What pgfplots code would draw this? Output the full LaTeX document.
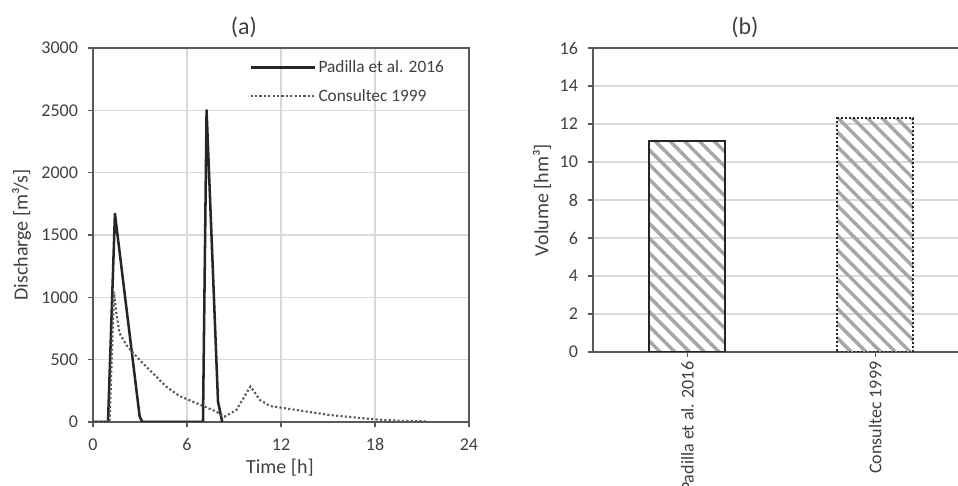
\documentclass[border=0pt]{standalone}
\usepackage{fontspec}
\setmainfont{Carlito}
\usepackage{pgfplots}
\pgfplotsset{compat=1.18}
\usetikzlibrary{patterns.meta}

\definecolor{axisgray}{HTML}{595959}
\definecolor{gridgray}{HTML}{D9D9D9}
\definecolor{textgray}{HTML}{404040}
\definecolor{linedark}{HTML}{262626}
\definecolor{dotgray}{HTML}{595959}
\definecolor{hatch}{HTML}{A6A6A6}

\pgfplotsset{
  every axis/.append style={
    scale only axis,
    /pgf/number format/assume math mode=true,
    tick label style={font=\fontsize{13.5}{15}\selectfont, text=textgray},
    label style={font=\fontsize{15}{18}\selectfont, text=textgray},
    title style={font=\fontsize{18}{21}\selectfont, text=textgray},
    every axis title shift=0pt,
    tick align=outside,
    major tick length=3.75pt,
    tick style={axisgray, line width=0.8pt},
    grid style={gridgray, line width=0.9pt},
    axis line style={axisgray, line width=0.9pt},
  },
}

\begin{document}
\begin{tikzpicture}
% (a) hydrographs
\begin{axis}[
  at={(69.75pt,48pt)}, anchor=south west,
  width=282pt, height=280.5pt,
  xmin=0, xmax=24, ymin=0, ymax=3000,
  xtick={0,6,...,24}, ytick={0,500,...,3000},
  tick pos=left,
  grid=major,
  scaled y ticks=false,
  yticklabel style={/pgf/number format/1000 sep={}, xshift=-4pt},
  xticklabel style={yshift=-5pt},
  title={(a)},
  title style={at={(axis description cs:0.4016,1.056)}, anchor=center},
  xlabel={Time [h]},
  xlabel style={at={(axis description cs:0.497,-0.123)}, anchor=center},
  ylabel={Discharge [m³/s]},
  ylabel style={at={(axis description cs:-0.19,0.5)}, anchor=center},
  legend style={draw=none, fill=none, at={(axis description cs:0.415,0.975)},
    anchor=north west, inner sep=0pt, row sep=7pt,
    font=\fontsize{13}{15}\selectfont, text=textgray},
  legend cell align=left,
  legend image code/.code={\draw[#1] (0pt,0pt) -- (48pt,0pt);},
]
\addplot[linedark, line width=1.9pt, line join=round] coordinates {
  (0,0) (0.96,0) (1.4,1670) (2.98,43) (3.15,0) (7.02,0) (7.25,2500)
  (7.98,163) (8.25,0)
};
\addlegendentry{Padilla et al. 2016}
\addplot[dotgray, line width=1.6pt, dash pattern=on 1.6pt off 1.7pt] coordinates {
  (0,0) (1.06,0) (1.34,1045) (1.49,872) (1.70,711) (2.13,617) (2.55,556)
  (3.19,470) (3.83,390) (4.68,283) (5.53,208) (6.38,163) (7.23,118)
  (7.87,83) (8.40,43) (9.15,96) (10.05,285) (10.66,176) (11.3,128)
  (13.0,96) (15.1,56) (17.25,30) (17.9,22) (19.5,10) (21.3,5)
};
\addlegendentry{Consultec 1999}
\end{axis}

% (b) volumes
\begin{axis}[
  at={(444.75pt,100.5pt)}, anchor=south west,
  width=273.75pt, height=228pt,
  axis x line*=box, axis y line*=left,
  xtick pos=bottom, ytick pos=left,
  ybar, bar width=56.8pt, bar shift=0pt,
  xmin=-0.502, xmax=1.44, ymin=0, ymax=16,
  ytick={0,2,...,16},
  yticklabel style={xshift=-4pt},
  xtick={0,1},
  xticklabels={Padilla et al. 2016, Consultec 1999},
  xticklabel style={rotate=90, anchor=east, font=\fontsize{13.5}{15}\selectfont},
  ymajorgrids,
  title={(b)},
  title style={at={(axis description cs:0.416,1.069)}, anchor=center},
  ylabel={Volume [hm³]},
  ylabel style={at={(axis description cs:-0.14,0.5)}, anchor=center},
]
\addplot[draw=linedark, line width=1.5pt,
  pattern={Lines[angle=-45,distance=7.8pt,line width=2.6pt]}, pattern color=hatch]
  coordinates {(0,11.08)};
\addplot[draw=none,
  pattern={Lines[angle=-45,distance=7.8pt,line width=2.6pt]}, pattern color=hatch]
  coordinates {(1,12.31)};
\addplot[draw=linedark, fill=none, line width=1.5pt, dash pattern=on 1.5pt off 1.5pt]
  coordinates {(1,12.31)};
\end{axis}

\pgfresetboundingbox
\path[use as bounding box] (0,0) rectangle (718.5pt,364.5pt);
\end{tikzpicture}
\end{document}
